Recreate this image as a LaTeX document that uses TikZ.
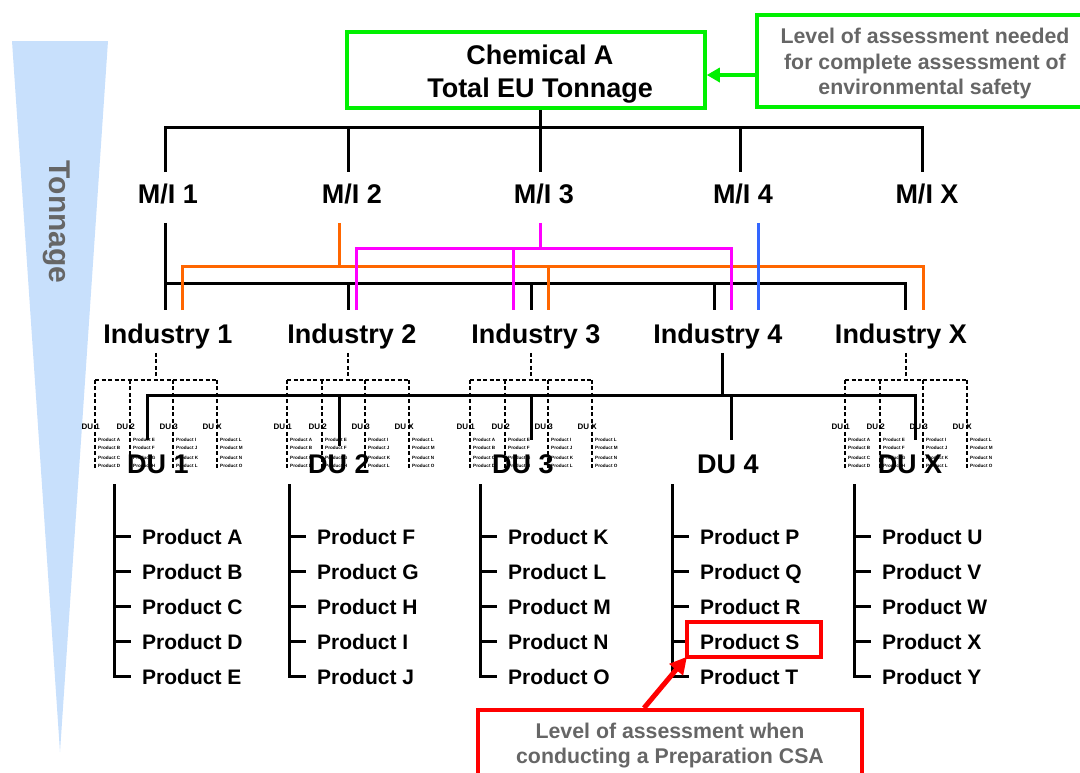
\documentclass[tikz,border=0pt]{standalone}
\usepackage{fontspec}
\setmainfont{Liberation Sans}
\usetikzlibrary{calc,arrows.meta}
\definecolor{tonblue}{HTML}{C8E0FC}
\definecolor{notegray}{HTML}{666666}
\definecolor{linkorange}{HTML}{FF6600}
\definecolor{linkmagenta}{HTML}{FF00FF}
\definecolor{linkblue}{HTML}{3366FF}
\definecolor{safegreen}{HTML}{00F000}
\definecolor{csared}{HTML}{FF0000}
\begin{document}
\begin{tikzpicture}[x=1pt,y=-1pt,
  big/.style={font=\fontsize{27}{27}\selectfont\bfseries, inner sep=0pt, text height=19.3pt, text depth=0pt},
  prod/.style={font=\fontsize{21}{21}\selectfont\bfseries, inner sep=0pt, text height=15pt, text depth=0pt, anchor=west},
  tinydu/.style={font=\fontsize{8}{8}\selectfont\bfseries, inner sep=0pt, anchor=east},
  tinyprod/.style={font=\fontsize{4.6}{4.6}\selectfont\bfseries, inner sep=0pt, anchor=west},
  wire/.style={line width=3pt, draw=black},
  owire/.style={line width=3pt, draw=linkorange},
  mwire/.style={line width=3pt, draw=linkmagenta},
  bwire/.style={line width=3pt, draw=linkblue},
  dashwire/.style={line width=1.6pt, dash pattern=on 4pt off 2.5pt},
  notetext/.style={text=notegray, align=center,
    font=\fontsize{21.3}{25.5}\selectfont\bfseries, inner sep=0pt}
]
\useasboundingbox (0,0) rectangle (1080,772);

% tonnage wedge
\fill[tonblue] (12,41) -- (108,41) -- (60,752) -- cycle;
\node[rotate=-90, font=\fontsize{30}{30}\selectfont\bfseries, text=notegray] (tonnage) at (57,222) {Tonnage};

% chemical box and safety note
\node[draw=safegreen, line width=3.5pt, minimum width=358pt, minimum height=76pt, inner sep=0pt] (chembox) at (526,70) {};
\node[align=center, font=\fontsize{27}{33}\selectfont\bfseries, inner sep=0pt] (chemtxt) at (540,74.5) {Chemical A\\Total EU Tonnage};
\node[draw=safegreen, line width=4pt, minimum width=338pt, minimum height=92pt, inner sep=0pt] (safety) at (926,61) {};
\node[notetext] (safetytxt) at (925,63.5)
  {Level of assessment needed\\for complete assessment of\\environmental safety};
\draw[line width=4pt, draw=safegreen, -{Triangle[length=13pt,width=14pt]}]
  ($(safety.west)+(0,14)$) -- ($(chembox.east)+(0,5)$);

% manufacturer / importer level
\node[big] (mi1) at (168,194) {M/I 1};
\node[big] (mi2) at (352,194) {M/I 2};
\node[big] (mi3) at (544,194) {M/I 3};
\node[big] (mi4) at (743,194) {M/I 4};
\node[big] (mi5) at (927,194) {M/I X};

\draw[wire] ($(chembox.south)+(14,0)$) -- ($(mi3.north)+(-4,-57)$);
\draw[wire] ($(mi1.north)+(-3,-12)$) -- ($(mi1.north)+(-3,-57)$) -- ($(mi5.north)+(-5,-57)$) -- ($(mi5.north)+(-5,-12)$);
\draw[wire] ($(mi2.north)+(-4,-57)$) -- ($(mi2.north)+(-4,-12)$);
\draw[wire] ($(mi3.north)+(-4,-57)$) -- ($(mi3.north)+(-4,-12)$);
\draw[wire] ($(mi4.north)+(-3,-57)$) -- ($(mi4.north)+(-3,-12)$);

% industry level
\node[big] (ind1) at (168,334) {Industry 1};
\node[big] (ind2) at (352,334) {Industry 2};
\node[big] (ind3) at (536,334) {Industry 3};
\node[big] (ind4) at (718,334) {Industry 4};
\node[big] (ind5) at (901,334) {Industry X};

% supply links: black from M/I 1
\draw[wire] ($(mi1.south)+(-3,19)$) -- ($(ind1.north)+(-3,-14)$);
\draw[wire] ($(ind1.north)+(-3,-41)$) -- ($(ind5.north)+(4,-41)$) -- ($(ind5.north)+(4,-14)$);
\draw[wire] ($(ind2.north)+(-4,-41)$) -- ($(ind2.north)+(-4,-14)$);
\draw[wire] ($(ind3.north)+(-5,-41)$) -- ($(ind3.north)+(-5,-14)$);
\draw[wire] ($(ind4.north)+(-4,-41)$) -- ($(ind4.north)+(-4,-14)$);
% orange from M/I 2
\draw[owire] ($(mi2.south)+(-13,19)$) -- ($(mi2.south)+(-13,62)$);
\draw[owire] ($(ind1.north)+(14,-14)$) -- ($(ind1.north)+(14,-58)$) -- ($(ind5.north)+(22,-58)$) -- ($(ind5.north)+(22,-14)$);
\draw[owire] ($(ind3.north)+(12,-58)$) -- ($(ind3.north)+(12,-14)$);
% magenta from M/I 3
\draw[mwire] ($(mi3.south)+(-4,19)$) -- ($(mi3.south)+(-4,44)$);
\draw[mwire] ($(ind2.north)+(4,-14)$) -- ($(ind2.north)+(4,-76)$) -- ($(ind4.north)+(13,-76)$) -- ($(ind4.north)+(13,-14)$);
\draw[mwire] ($(ind3.north)+(-23,-76)$) -- ($(ind3.north)+(-23,-14)$);
% blue from M/I 4
\draw[bwire] ($(mi4.south)+(15,19)$) -- ($(ind4.north)+(40,-14)$);

% small downstream-use trees under industries 1, 2, 3 and X
\foreach \ind/\dx [count=\k] in {ind1/-12, ind2/-4, ind3/-5, ind5/5}{
  \coordinate (c\k) at ($(\ind.south)+(\dx,0)$);
  \draw[dashwire] ($(c\k)+(0,9)$) -- ($(c\k)+(0,36)$);
  \draw[dashwire] ($(c\k)+(-61,36)$) -- ($(c\k)+(61,36)$);
  \foreach \o/\lab/\pa/\pb/\pc/\pd [count=\j] in {-61/1/A/B/C/D, -26/2/E/F/G/H, 17/3/I/J/K/L, 61/X/L/M/N/O}{
    \node[tinydu] (m\k-d\j) at ($(c\k)+(\o+5,83)$) {DU \lab};
    \foreach \p/\yy [count=\q] in {\pa/96, \pb/104, \pc/114, \pd/122}{
      \node[tinyprod] (m\k-d\j-p\q) at ($(c\k)+(\o+3,\yy)$) {Product \p};
    }
    \draw[dashwire] ($(c\k)+(\o,36)$) -- ($(m\k-d\j-p4.west)+(-3,4)$);
  }
}

% downstream-use level
\node[big] (du1) at (158,464) {DU 1};
\node[big] (du2) at (339,464) {DU 2};
\node[big] (du3) at (523,464) {DU 3};
\node[big] (du4) at (728,464) {DU 4};
\node[big] (du5) at (910,464) {DU X};

\draw[wire] ($(ind4.south)+(4,9)$) -- ($(ind4.south)+(4,52)$);
\draw[wire] ($(du1.north)+(-11,-14)$) -- ($(du1.north)+(-11,-59)$) -- ($(du5.north)+(5,-59)$) -- ($(du5.north)+(5,-14)$);
\draw[wire] ($(du2.north)+(0,-59)$) -- ($(du2.north)+(0,-8)$);
\draw[wire] ($(du3.north)+(8,-59)$) -- ($(du3.north)+(8,-14)$);
\draw[wire] ($(du4.north)+(3,-59)$) -- ($(du4.north)+(3,-14)$);

% product lists
\foreach \x/\pa/\pb/\pc/\pd/\pe [count=\k] in {142/A/B/C/D/E, 317/F/G/H/I/J, 508/K/L/M/N/O, 700/P/Q/R/S/T, 882/U/V/W/X/Y}{
  \foreach \p/\y [count=\q] in {\pa/537, \pb/572, \pc/607, \pd/642, \pe/677}{
    \node[prod] (d\k-p\q) at (\x,\y) {Product \p};
  }
  \foreach \q in {1,2,3,4}{
    \draw[wire] ($(d\k-p\q.west)+(-28,-1)$) -- ($(d\k-p\q.west)+(-11,-1)$);
  }
  \draw[wire] ($(d\k-p1.west)+(-28,-53)$) -- ($(d\k-p5.west)+(-28,-1)$) -- ($(d\k-p5.west)+(-11,-1)$);
}

% preparation CSA focus
\draw[line width=4pt, draw=csared] ($(d4-p4.north west)+(-13,-12)$) rectangle ($(d4-p4.south east)+(21,7)$);
\coordinate (sfocus) at ($(d4-p4.south west)+(-13,7)$);
\node[draw=csared, line width=4pt, minimum width=384pt, minimum height=67pt, inner sep=0pt] (csa) at (670,743.5) {};
\node[notetext] (csatxt) at (670,745.5) {Level of assessment when\\conducting a Preparation CSA};
\draw[line width=5pt, draw=csared, -{Triangle[length=17pt,width=17pt]}]
  ($(csa.north)+(-26,0)$) -- (sfocus);
\end{tikzpicture}
\end{document}
